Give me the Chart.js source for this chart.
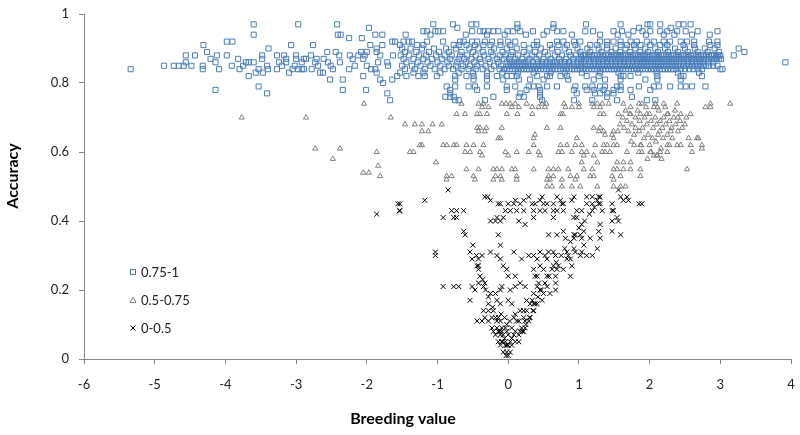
<!DOCTYPE html>
<html>
<head>
<meta charset="utf-8">
<title>Accuracy vs breeding value</title>
<script src="https://cdn.jsdelivr.net/npm/chart.js@4.4.1/dist/chart.umd.min.js"></script>
<style>body{margin:0;background:#fff}</style>
</head>
<body>
<canvas id="myChart" width="800" height="435"></canvas>
<script>
// axis settings
var xMin = -6, xMax = 4, yMin = 0, yMax = 1, yStep = 0.2;
var xTitle = 'Breeding value';
var yTitle = 'Accuracy';
var seriesNames = ['0.75-1', '0.5-0.75', '0-0.5'];

// accuracy 0.75-1 : rows of [accuracy, [breeding values...]]
var highRows = [
  [0.97, [-1.06, -0.78, -0.52, -0.45, 0.13, 0.64, 1.10, 1.59, 1.97, 2.01, 2.15, 2.41, 2.48, 2.58]],
  [0.96, [-0.72, 0.13, 0.64, 1.85, 2.30]],
  [0.95, [-1.20, -1.15, -1.03, -0.99, -0.92, -0.51, -0.40, -0.35, -0.28, -0.21, -0.14, -0.01, 0.07, 0.17, 0.35, 0.55, 0.69, 0.78, 1.09, 1.20, 1.49, 1.61, 1.77, 1.90, 2.01, 2.15, 2.25, 2.39, 2.51, 2.68, 2.96]],
  [0.94, [-1.45, -1.10, -0.60, -0.30, -0.05, 0.25, 0.50, 0.90, 1.30, 1.55, 1.70, 1.95, 2.20, 2.35, 2.60, 2.85]],
  [0.92, [-1.48, -1.41, -1.36, -1.15, -0.92, -0.68, -0.63, -0.51, -0.44, -0.33, -0.23, -0.11, 0.00, 0.10, 0.41, 0.69, 0.78, 0.93, 1.02, 1.30, 1.40, 1.49, 1.59, 1.73, 1.82, 1.96, 2.06, 2.20, 2.29, 2.44, 2.53, 2.63, 2.84, 2.96]],
  [0.91, [-1.53, -1.29, -1.20, -0.77, -0.70, -0.59, -0.47, -0.35, -0.25, -0.11, 0.03, 0.22, 0.36, 0.41, 0.59, 0.71, 0.83, 0.95, 1.16, 1.26, 1.40, 1.59, 1.68, 1.78, 1.87, 2.01, 2.15, 2.25, 2.48, 2.63, 2.86, 2.96]],
  [0.90, [-1.50, -1.38, -1.22, -1.05, -0.88, -0.74, -0.55, -0.42, -0.20, -0.02, 0.12, 0.30, 0.46, 0.62, 0.80, 0.98, 1.12, 1.28, 1.40, 1.52, 1.66, 1.80, 1.94, 2.08, 2.22, 2.36, 2.50, 2.64, 2.78, 2.92, 3.26]],
  [0.89, [-1.46, -1.30, -1.12, -0.98, -0.84, -0.66, -0.50, -0.36, -0.24, -0.08, 0.06, 0.22, 0.38, 0.52, 0.70, 0.86, 1.02, 1.16, 1.32, 1.46, 1.58, 1.72, 1.86, 1.98, 2.12, 2.26, 2.40, 2.54, 2.68, 2.82, 2.98, 3.34]],
  [0.88, [-1.52, -1.40, -1.26, -1.16, -1.02, -0.90, -0.80, -0.68, -0.58, -0.46, -0.34, -0.22, -0.12, -0.04, 0.04, 0.14, 0.26, 0.34, 0.44, 0.56, 0.66, 0.76, 0.88, 0.96, 1.06, 1.18, 1.26, 1.34, 1.42, 1.50, 1.56, 1.62, 1.70, 1.76, 1.84, 1.90, 1.96, 2.04, 2.10, 2.16, 2.24, 2.30, 2.38, 2.44, 2.52, 2.58, 2.66, 2.72, 2.80, 2.88, 2.94, 3.00, 3.19]],
  [0.88, [1.03, 1.09, 1.14, 1.22, 1.30, 1.38, 1.46, 1.53, 1.59, 1.66, 1.73, 1.80, 1.87, 1.93, 2.00, 2.07, 2.13, 2.20, 2.27, 2.34, 2.41, 2.48, 2.55, 2.62, 2.69, 2.76, 2.84, 2.91, 2.97]],
  [0.87, [-1.48, -1.34, -1.20, -1.08, -0.94, -0.82, -0.70, -0.62, -0.52, -0.40, -0.28, -0.16, -0.06, 0.02, 0.10, 0.20, 0.30, 0.40, 0.50, 0.60, 0.72, 0.82, 0.92, 1.00, 1.10, 1.20, 1.28, 1.36, 1.44, 1.52, 1.60, 1.66, 1.74, 1.80, 1.88, 1.94, 2.00, 2.08, 2.14, 2.20, 2.28, 2.34, 2.42, 2.48, 2.56, 2.62, 2.70, 2.76, 2.84, 2.92, 2.98]],
  [0.87, [1.04, 1.14, 1.24, 1.32, 1.40, 1.48, 1.56, 1.63, 1.70, 1.77, 1.84, 1.91, 1.97, 2.04, 2.11, 2.17, 2.24, 2.31, 2.38, 2.45, 2.52, 2.59, 2.66, 2.73, 2.80, 2.88, 2.95, 3.01]],
  [0.86, [-1.44, -1.28, -1.14, -1.00, -0.86, -0.72, -0.60, -0.48, -0.38, -0.26, -0.14, -0.02, 0.08, 0.18, 0.28, 0.42, 0.54, 0.64, 0.74, 0.86, 0.98, 1.08, 1.22, 1.34, 1.46, 1.58, 1.70, 1.82, 1.92, 2.02, 2.12, 2.22, 2.32, 2.42, 2.54, 2.66, 2.76, 2.90, 3.92]],
  [0.86, [0.03, 0.13, 0.23, 0.35, 0.48, 0.59, 0.69, 0.80, 0.92, 1.03, 1.15, 1.28, 1.40, 1.52, 1.64, 1.76, 1.87, 1.97, 2.07, 2.17, 2.27, 2.37, 2.48, 2.60, 2.71, 2.83]],
  [0.85, [-1.50, -1.36, -1.24, -1.10, -0.96, -0.84, -0.74, -0.64, -0.54, -0.44, -0.32, -0.20, -0.10, 0.00, 0.08, 0.16, 0.24, 0.32, 0.40, 0.48, 0.58, 0.68, 0.78, 0.88, 0.98, 1.08, 1.16, 1.24, 1.32, 1.40, 1.48, 1.56, 1.64, 1.72, 1.80, 1.88, 1.96, 2.04, 2.12, 2.20, 2.28, 2.36, 2.44, 2.52, 2.60, 2.68, 2.76, 2.84, 2.96]],
  [0.85, [0.04, 0.12, 0.20, 0.28, 0.36, 0.44, 0.53, 0.63, 0.73, 0.83, 0.93, 1.03, 1.12, 1.20, 1.28, 1.36, 1.44, 1.52, 1.60, 1.68, 1.76, 1.84, 1.92, 2.00, 2.08, 2.16, 2.24, 2.32, 2.40, 2.48, 2.56, 2.64, 2.72, 2.80, 2.90]],
  [0.84, [-1.46, -1.32, -1.18, -1.04, -0.90, -0.78, -0.66, -0.56, -0.46, -0.36, -0.24, -0.12, -0.02, 0.06, 0.14, 0.22, 0.30, 0.38, 0.46, 0.54, 0.62, 0.70, 0.78, 0.86, 0.94, 1.02, 1.10, 1.18, 1.26, 1.34, 1.42, 1.50, 1.58, 1.66, 1.74, 1.82, 1.90, 1.98, 2.06, 2.14, 2.22, 2.30, 2.38, 2.50, 2.62, 2.74, 3.00, 3.03]],
  [0.84, [-0.06, 0.02, 0.10, 0.18, 0.26, 0.34, 0.42, 0.50, 0.58, 0.66, 0.74, 0.82, 0.90, 0.98, 1.06, 1.14, 1.22, 1.30, 1.38, 1.46, 1.54, 1.62, 1.70, 1.78, 1.86, 1.94, 2.02, 2.10, 2.18, 2.26, 2.34, 2.44, 2.56, 2.68]],
  [0.83, [-1.53, -1.34, -1.20, -0.96, -0.70, -0.50, -0.30, -0.08, 0.14, 0.36, 0.60, 0.80, 1.04, 1.30, 1.56, 1.84, 2.10, 2.40, 2.70]],
  [0.82, [-1.44, -1.27, -1.18, -1.01, -0.75, -0.59, -0.49, -0.30, -0.16, -0.02, 0.05, 0.12, 0.41, 0.55, 0.59, 0.74, 0.83, 1.11, 1.28, 1.59, 1.63, 1.73, 2.11, 2.44, 2.48, 2.74]],
  [0.81, [-0.75, -0.49, -0.30, -0.07, 0.15, 0.31, 0.50, 0.85, 1.21, 1.37, 1.59, 1.94, 2.11, 2.44]],
  [0.79, [-0.87, -0.75, -0.56, -0.47, -0.30, -0.02, 0.10, 0.29, 0.36, 0.43, 0.55, 0.69, 0.95, 1.09, 1.19, 1.30, 1.37, 1.54, 1.59, 1.85, 2.06, 2.13, 2.29, 2.44, 2.51, 2.60, 2.79]],
  [0.78, [-0.82, -0.44, -0.02, 0.26, 0.45, 0.93, 1.11, 1.21, 1.35, 1.49, 1.59, 1.73, 2.01]],
  [0.77, [-0.82, 0.17, 0.45, 0.97, 1.23, 1.30, 1.40, 1.49]],
  [0.76, [-0.89, -0.82, -0.77, -0.21, 0.15, 0.22, 0.45, 1.40, 1.75]],
  [0.75, [-0.75, -0.70, -0.33, 0.48, 0.93, 1.19, 1.54, 1.96, 2.08]]
];
// accuracy 0.75-1 : scattered points on the left, [breeding value, accuracy]
var highLeft = [
  [-5.34, 0.84], [-4.87, 0.85], [-4.73, 0.85], [-4.66, 0.85], [-4.59, 0.85], [-4.48, 0.85], [-4.56, 0.88], [-4.43, 0.88],
  [-4.56, 0.86], [-4.31, 0.91], [-4.32, 0.85], [-4.32, 0.84], [-4.26, 0.89], [-4.21, 0.87], [-4.14, 0.86], [-4.12, 0.88],
  [-4.14, 0.78], [-4.09, 0.84], [-3.98, 0.88], [-3.98, 0.92], [-3.90, 0.92], [-3.91, 0.85], [-3.82, 0.87], [-3.80, 0.84],
  [-3.75, 0.85], [-3.71, 0.86], [-3.67, 0.86], [-3.60, 0.86], [-3.67, 0.82], [-3.60, 0.97], [-3.60, 0.94], [-3.57, 0.83],
  [-3.53, 0.79], [-3.53, 0.84], [-3.48, 0.88], [-3.48, 0.87], [-3.47, 0.83], [-3.41, 0.85], [-3.41, 0.77], [-3.40, 0.84],
  [-3.39, 0.90], [-3.27, 0.88], [-3.27, 0.84], [-3.24, 0.86], [-3.20, 0.85], [-3.17, 0.88], [-3.14, 0.87], [-3.14, 0.86],
  [-3.10, 0.83], [-3.07, 0.91], [-3.05, 0.84], [-3.02, 0.85], [-2.97, 0.84], [-2.97, 0.97], [-3.00, 0.87], [-3.00, 0.88],
  [-2.92, 0.86], [-2.89, 0.87], [-2.86, 0.87], [-2.92, 0.84], [-2.89, 0.84], [-2.79, 0.88], [-2.78, 0.84], [-2.76, 0.91],
  [-2.73, 0.86], [-2.71, 0.87], [-2.69, 0.85], [-2.66, 0.83], [-2.62, 0.83], [-2.61, 0.87], [-2.56, 0.89], [-2.55, 0.86],
  [-2.51, 0.85], [-2.48, 0.84], [-2.52, 0.81], [-2.44, 0.89], [-2.42, 0.97], [-2.41, 0.94], [-2.37, 0.94], [-2.39, 0.88],
  [-2.38, 0.86], [-2.34, 0.81], [-2.34, 0.78], [-2.25, 0.84], [-2.25, 0.93], [-2.24, 0.88], [-2.20, 0.87], [-2.17, 0.85],
  [-2.12, 0.88], [-2.08, 0.89], [-2.07, 0.93], [-2.05, 0.82], [-2.05, 0.87], [-2.03, 0.88], [-2.00, 0.89], [-2.01, 0.78],
  [-1.97, 0.96], [-1.95, 0.91], [-2.00, 0.85], [-1.94, 0.84], [-1.88, 0.84], [-1.88, 0.94], [-1.78, 0.94], [-1.86, 0.90],
  [-1.86, 0.89], [-1.84, 0.86], [-1.86, 0.83], [-1.81, 0.81], [-1.77, 0.80], [-1.78, 0.91], [-1.81, 0.88], [-1.71, 0.77],
  [-1.67, 0.75], [-1.64, 0.81], [-1.71, 0.86], [-1.70, 0.85], [-1.64, 0.92], [-1.60, 0.92], [-1.57, 0.82], [-1.63, 0.88]
];

// accuracy 0.5-0.75
var midRows = [
  [0.74, [-2.04, -0.66, -0.42, -0.35, -0.09, -0.03, 0.03, 0.10, 0.26, 0.48, 0.54, 0.79, 1.00, 1.19, 1.26, 1.33, 1.42, 1.63, 1.85, 1.89, 2.08, 2.20, 2.39, 2.86, 3.14]],
  [0.73, [-0.37, -0.28, 0.05, 0.15, 0.34, 0.43, 0.52, 0.81, 0.90, 1.00, 1.21, 1.30, 1.73, 2.11, 2.79, 2.86]],
  [0.71, [-0.73, -0.61, -0.44, -0.40, -0.30, -0.02, 0.13, 0.34, 0.74, 0.77, 1.30, 1.35, 1.56, 1.73, 1.87, 1.96, 2.25, 2.44, 2.58]],
  [0.70, [-3.77, -2.86, -1.66]],
  [0.68, [-1.46, -1.32, -1.22, -1.07, -0.94]],
  [0.67, [-0.44, -0.40, -0.31, -0.09, 0.55, 0.74, 1.21, 1.30]],
  [0.66, [-1.22, -1.13, -0.42, -0.33, 1.28, 1.35, 1.49]],
  [0.65, [0.38, 1.37, 1.47]],
  [0.64, [-0.14, -0.11, 0.36, 0.97, 1.49, 2.55, 2.67, 2.69]],
  [0.62, [-1.25, -1.22, -0.92, -0.87, -0.77, -0.73, -0.59, -0.49, -0.35, 0.36, 0.74, 0.83, 0.95, 1.04, 1.23, 1.35, 1.40, 1.49, 1.54, 1.78, 1.87, 2.25, 2.39, 2.44, 2.58, 2.74]],
  [0.61, [-2.73, -2.38, 2.74]],
  [0.60, [-1.86, -1.39, -1.34, -0.61, -0.54, -0.40, -0.04, 0.12, 0.29, 0.43, 0.71, 0.76, 0.90, 1.04, 1.11, 1.33, 1.37, 1.44, 1.68, 1.85, 1.89, 2.01, 2.15, 2.25, 2.60]],
  [0.59, [-0.37, 0.00, 0.45, 1.07, 1.21, 2.06, 2.11]],
  [0.58, [-2.48]],
  [0.57, [-1.02, 1.04, 1.26, 1.54, 1.63, 1.73]],
  [0.56, [-1.84]],
  [0.55, [-0.59, -0.42, -0.21, -0.16, -0.09, 0.05, 0.10, 0.36, 0.57, 0.64, 0.71, 0.85, 1.07, 1.19, 1.49, 1.54, 1.63, 1.73, 1.87, 2.53]],
  [0.54, [-2.05, -1.97]],
  [0.53, [-1.81, -0.87, -0.80, -0.49, -0.18, -0.11, 0.12, 0.57, 0.64, 0.88, 0.97, 1.16, 1.21, 1.47, 1.59, 1.87]],
  [0.52, [-0.87, -0.47, -0.21, -0.09, 0.12, 0.55, 0.59, 0.76, 0.95, 1.49]],
  [0.50, [0.55, 0.62, 0.76, 0.90, 1.02, 1.26, 1.49, 1.59, 1.66]]
];
// accuracy 0.5-0.75 : dense cloud around breeding value 2
var midCloud = [
  [1.62, 0.70], [1.68, 0.69], [1.72, 0.71], [1.75, 0.68], [1.80, 0.70], [1.83, 0.72], [1.86, 0.69], [1.90, 0.67],
  [1.93, 0.70], [1.96, 0.68], [2.00, 0.71], [2.02, 0.69], [2.05, 0.67], [2.08, 0.70], [2.10, 0.68], [2.13, 0.72],
  [2.15, 0.69], [2.18, 0.67], [2.20, 0.70], [2.23, 0.68], [2.26, 0.71], [2.28, 0.69], [2.31, 0.67], [2.34, 0.70],
  [2.37, 0.68], [2.40, 0.66], [2.43, 0.69], [2.46, 0.67], [1.70, 0.66], [1.78, 0.65], [1.85, 0.66], [1.92, 0.64],
  [1.98, 0.65], [2.04, 0.64], [2.12, 0.65], [2.19, 0.64], [2.25, 0.65], [2.32, 0.64], [1.74, 0.63], [1.88, 0.62],
  [2.00, 0.62], [2.09, 0.63], [2.16, 0.61], [2.28, 0.62], [1.64, 0.67], [1.58, 0.68], [1.66, 0.72], [1.95, 0.73],
  [2.06, 0.73], [2.22, 0.73], [2.36, 0.72], [1.80, 0.67], [2.14, 0.66], [2.30, 0.66], [2.40, 0.70], [2.50, 0.68],
  [2.52, 0.70], [1.55, 0.66], [2.02, 0.60], [2.10, 0.59], [2.17, 0.58], [1.97, 0.58]
];

// accuracy 0-0.5
var lowRows = [
  [0.49, [-0.85, 1.56]],
  [0.47, [-0.33, -0.29, 0.29, 0.48, 0.69, 0.93, 1.11, 1.19, 1.28, 1.30, 1.59, 1.68]],
  [0.46, [-1.18, -0.25, 0.10, 0.22, 0.45, 0.74, 0.90, 1.26, 1.63, 1.70]],
  [0.45, [-1.56, -1.53, -0.14, -0.11, 0.00, 0.08, 0.17, 0.34, 0.38, 0.50, 0.55, 0.64, 0.76, 0.78, 1.11, 1.19, 1.28, 1.30, 1.47, 1.85, 1.89]],
  [0.44, [1.22]],
  [0.43, [-1.54, -1.53, -0.80, -0.73, -0.63, -0.04, 0.03, 0.12, 0.22, 0.36, 0.45, 0.52, 0.64, 0.69, 0.78, 0.97, 1.04, 1.19, 1.33, 1.47, 1.49]],
  [0.42, [-1.86, 1.15]],
  [0.41, [-0.92, -0.77, -0.73, -0.16, -0.07, 0.36, 0.64, 0.93, 0.97, 1.54]],
  [0.40, [-0.25, -0.18, -0.11, 0.15, 1.08, 1.47, 1.56]],
  [0.39, [0.24, 1.04, 1.30]],
  [0.38, [1.00]],
  [0.37, [-0.63, 0.78, 1.07, 1.28, 1.47]],
  [0.36, [-0.61, -0.14, 0.57, 0.69, 0.93, 0.95, 1.02, 1.59]],
  [0.35, [0.81, 0.93, 1.04, 1.16, 1.30]],
  [0.34, [0.88]],
  [0.33, [-0.50, -0.11, 1.07]],
  [0.32, [0.80, 0.93, 1.26]],
  [0.31, [-1.03, -0.54, -0.25, 0.08, 0.45, 0.57, 0.64, 0.83, 0.95, 1.04]],
  [0.30, [-1.03, -0.45, -0.37, -0.16, 0.29, 0.36, 0.52, 0.67, 0.75, 0.85, 1.02, 1.11, 1.19]],
  [0.29, [-0.51, -0.42, -0.11, 0.19, 0.41, 0.55, 0.83, 0.88]],
  [0.28, [0.68]],
  [0.27, [-0.44, -0.42, -0.07, 0.45, 0.64, 0.71, 0.90]],
  [0.26, [-0.42, -0.02, 0.36, 0.50, 0.62, 0.69, 0.78]],
  [0.24, [-0.40, 0.00, 0.10, 0.38, 0.41, 0.55, 0.58, 0.67, 0.88]],
  [0.23, [-0.36]],
  [0.22, [-0.42, -0.33, 0.17, 0.43, 0.52, 0.67]],
  [0.21, [-0.92, -0.77, -0.70, -0.51, -0.35, -0.09, 0.10, 0.24, 0.41, 0.55]],
  [0.20, [-0.47, -0.32, -0.11, 0.03, 0.45, 0.47, 0.67]],
  [0.19, [-0.25, -0.18, 0.36, 0.50, 0.59]],
  [0.18, [-0.28, 0.42]],
  [0.17, [-0.54, -0.16, 0.00, 0.26, 0.34, 0.48]],
  [0.16, [-0.28, -0.11, 0.05, 0.31, 0.36, 0.38, 0.41]],
  [0.15, [-0.22]],
  [0.14, [-0.35, -0.28, -0.21, 0.17, 0.22, 0.26, 0.35, 0.36]],
  [0.13, [-0.10, 0.10]],
  [0.12, [-0.33, -0.23, -0.18, -0.14, -0.05, 0.08, 0.22, 0.30, 0.31]],
  [0.11, [-0.44, -0.37, -0.28, -0.16, -0.11, 0.02, 0.12, 0.15, 0.24, 0.29]],
  [0.10, [-0.02, 0.25]],
  [0.09, [-0.23, -0.16, -0.09, -0.04, 0.05, 0.19, 0.24]],
  [0.08, [-0.21, -0.14, -0.12, -0.09, -0.02, 0.10, 0.17, 0.20, 0.22]],
  [0.07, [-0.18, -0.11, -0.07, 0.00, 0.08, 0.15]],
  [0.06, [-0.05, 0.05]],
  [0.05, [-0.14, -0.09, -0.08, -0.04, 0.03, 0.10, 0.15]],
  [0.04, [-0.11, -0.04, -0.02, 0.00, 0.05]],
  [0.02, [-0.07, -0.02, 0.03]],
  [0.01, [-0.03, 0.00]]
];

function fromRows(rows) {
  var out = [];
  rows.forEach(function (r) {
    r[1].forEach(function (x) { out.push({ x: x, y: r[0] }); });
  });
  return out;
}
function fromPairs(pairs) {
  return pairs.map(function (p) { return { x: p[0], y: p[1] }; });
}

var blue = '#4a7ebb', grey = '#7f7f7f', black = '#000000', axisGrey = '#868686';
var tickFont = { family: 'Lato', size: 13 };

// legend and axis titles drawn by hand to sit where the original puts them
var annotations = {
  id: 'annotations',
  afterDraw: function (chart) {
    var ctx = chart.ctx;
    ctx.save();
    ctx.fillStyle = '#000';
    ctx.font = 'bold 16px Lato';
    ctx.textAlign = 'center';
    ctx.textBaseline = 'middle';
    ctx.fillText(xTitle, 403, 419);
    ctx.save();
    ctx.translate(13, 176);
    ctx.rotate(-Math.PI / 2);
    ctx.fillText(yTitle, 0, 0);
    ctx.restore();

    var lx = 133, ly = [272, 300, 328];
    ctx.lineWidth = 1;
    ctx.strokeStyle = blue;
    ctx.strokeRect(lx - 2.5, ly[0] - 2.5, 5, 5);
    ctx.strokeStyle = grey;
    ctx.beginPath();
    ctx.moveTo(lx, ly[1] - 3); ctx.lineTo(lx + 3, ly[1] + 2.5); ctx.lineTo(lx - 3, ly[1] + 2.5); ctx.closePath();
    ctx.stroke();
    ctx.strokeStyle = black;
    ctx.beginPath();
    ctx.moveTo(lx - 2.5, ly[2] - 2.5); ctx.lineTo(lx + 2.5, ly[2] + 2.5);
    ctx.moveTo(lx + 2.5, ly[2] - 2.5); ctx.lineTo(lx - 2.5, ly[2] + 2.5);
    ctx.stroke();
    ctx.font = '13px Lato';
    ctx.textAlign = 'left';
    ctx.fillStyle = '#222';
    for (var i = 0; i < 3; i++) ctx.fillText(seriesNames[i], 141, ly[i] + 1);
    ctx.restore();
  }
};

var ctx = document.getElementById('myChart').getContext('2d');
var myChart = new Chart(ctx, {
  type: 'scatter',
  data: {
    datasets: [{
      label: seriesNames[0],
      data: fromRows(highRows).concat(fromPairs(highLeft)),
      pointStyle: 'rect', radius: 3.6, borderWidth: 1,
      borderColor: blue, backgroundColor: 'rgba(255,255,255,0)'
    }, {
      label: seriesNames[1],
      data: fromRows(midRows).concat(fromPairs(midCloud)),
      pointStyle: 'triangle', radius: 3, borderWidth: 1,
      borderColor: grey, backgroundColor: 'rgba(255,255,255,0)'
    }, {
      label: seriesNames[2],
      data: fromRows(lowRows),
      pointStyle: 'crossRot', radius: 3.5, borderWidth: 1,
      borderColor: black, backgroundColor: black
    }]
  },
  options: {
    responsive: false,
    animation: false,
    devicePixelRatio: 1,
    layout: { padding: { left: 0, right: 9, top: 14, bottom: 0 } },
    plugins: { legend: { display: false }, tooltip: { enabled: false } },
    scales: {
      x: {
        type: 'linear', min: xMin, max: xMax,
        afterFit: function (s) { s.height = 76; s.paddingLeft = 0; s.paddingRight = 0; },
        ticks: { stepSize: 1, font: tickFont, color: '#222', padding: 13, maxRotation: 0 },
        grid: { drawOnChartArea: false, drawTicks: true, tickLength: 5, color: axisGrey },
        border: { color: axisGrey, width: 1 }
      },
      y: {
        type: 'linear', min: yMin, max: yMax,
        afterFit: function (s) { s.width = 84; s.paddingTop = 0; s.paddingBottom = 0; },
        ticks: {
          stepSize: yStep, font: tickFont, color: '#222', padding: 10,
          callback: function (v) { return String(Math.round(v * 10) / 10); }
        },
        grid: { drawOnChartArea: false, drawTicks: true, tickLength: 5, color: axisGrey },
        border: { color: axisGrey, width: 1 }
      }
    }
  },
  plugins: [annotations]
});
</script>
</body>
</html>
